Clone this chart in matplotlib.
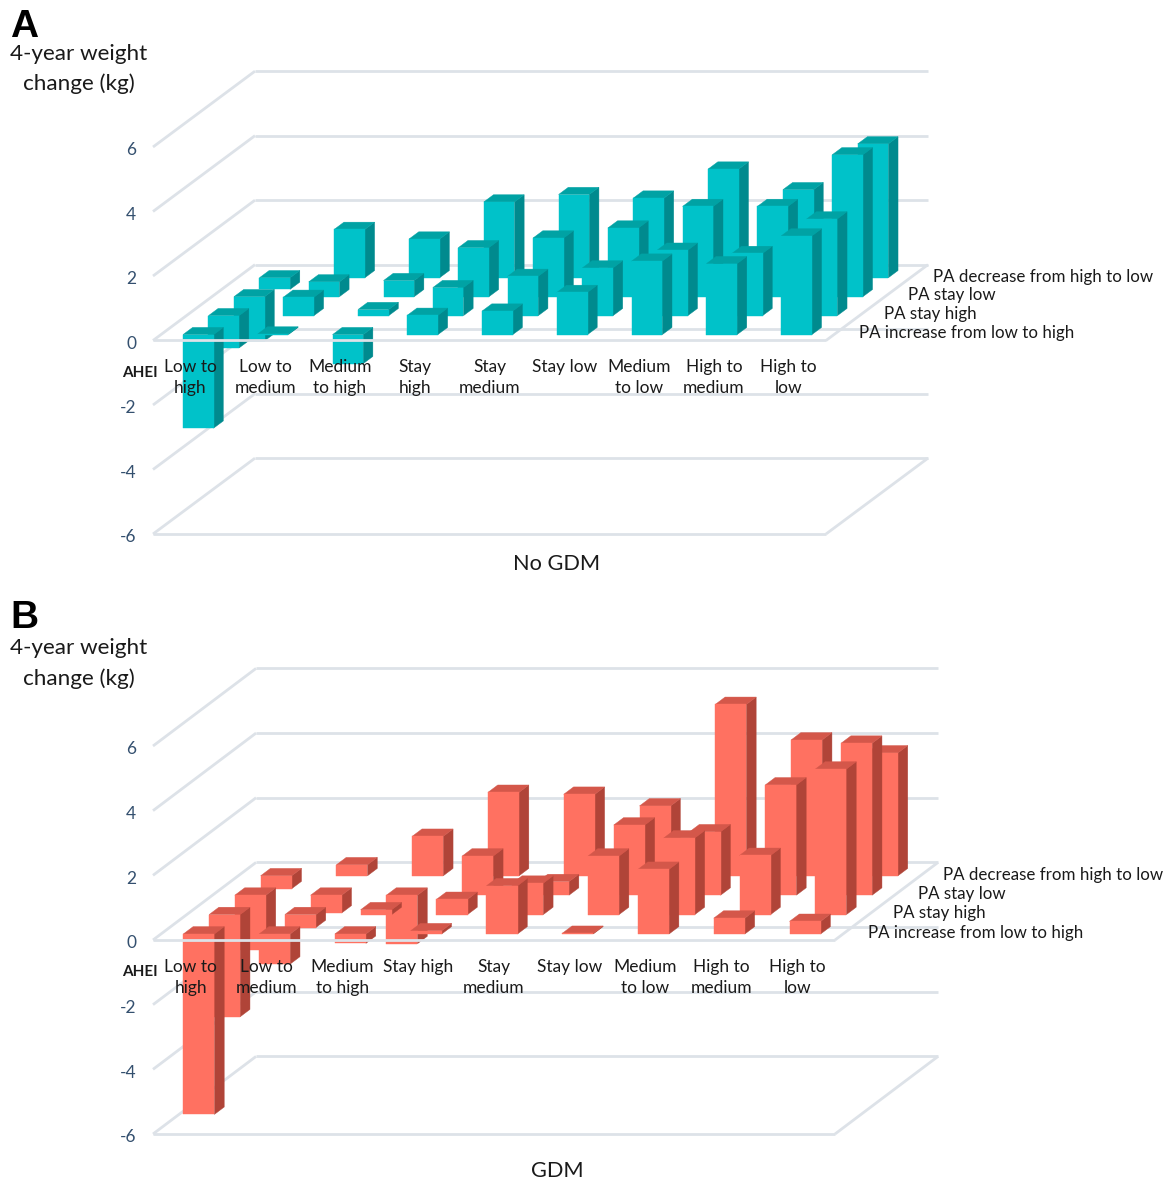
"""
plot.py
3D-style bars of 4-year weight change by AHEI and PA change, No GDM and GDM.
"""

import matplotlib
matplotlib.use("Agg")
import matplotlib.pyplot as plt
from matplotlib.patches import Polygon
from matplotlib.transforms import ScaledTranslation

plt.rcParams["font.family"] = ["Lato", "DejaVu Sans"]
plt.rcParams["axes.unicode_minus"] = False

W, H = 1165, 1181

PA_LABELS = ["PA increase from low to high", "PA stay high", "PA stay low", "PA decrease from high to low"]
Y_TICKS = [-6, -4, -2, 0, 2, 4, 6]

# one list per PA row, front to back, nine AHEI groups each
NO_GDM_LABELS = ["Low to\nhigh", "Low to\nmedium", "Medium\nto high", "Stay\nhigh", "Stay\nmedium",
                 "Stay low\n", "Medium\nto low", "High to\nmedium", "High to\nlow"]
NO_GDM_INCREASE = [-2.9, 0.02, -0.9, 0.6, 0.73, 1.31, 2.28, 2.2, 3.06]
NO_GDM_STAY_HIGH = [-1.0, 0.57, 0.19, 0.87, 1.22, 1.48, 2.03, 1.93, 3.0]
NO_GDM_STAY_LOW = [-1.37, 0.46, 0.5, 1.52, 1.82, 2.13, 2.8, 2.8, 4.4]
NO_GDM_DECREASE = [-0.36, 1.5, 1.2, 2.35, 2.58, 2.47, 3.37, 2.73, 4.15]

GDM_LABELS = ["Low to\nhigh", "Low to\nmedium", "Medium\nto high", "Stay high\n", "Stay\nmedium",
              "Stay low\n", "Medium\nto low", "High to\nmedium", "High to\nlow"]
GDM_INCREASE = [-5.58, -0.93, -0.29, 0.1, 1.49, 0.02, 2.0, 0.49, 0.39]
GDM_STAY_HIGH = [-3.16, -0.4, 0.15, 0.47, 0.97, 1.81, 2.37, 1.83, 4.5]
GDM_STAY_LOW = [-1.7, -0.55, -1.5, 1.21, 0.42, 2.17, 1.96, 3.41, 4.7]
GDM_DECREASE = [-0.4, 0.34, 1.22, 2.58, 2.52, 2.16, 5.3, 4.2, 3.8]

BAR_START = 0.295
BAR_WIDTH = 0.41
BAR_FRONT = 0.31
BAR_DEPTH = 0.38
GRID = "#DDE2E8"
TICK_COLOR = "#34506F"
TEXT = "#1A1A1A"


def draw_panel(rect, rows, labels, colors, depth_x, depth_z):
    """rect is left, top, right, bottom in picture pixels."""
    left, top, right, bottom = rect
    ax = fig.add_axes([left / W, 1 - bottom / H, (right - left) / W, (bottom - top) / H])
    ax.set_xlim(0, 9)
    ax.set_ylim(-6, 6)
    ax.patch.set_visible(False)
    for s in ax.spines.values():
        s.set_visible(False)
    ax.set_xticks([])
    ax.set_yticks(Y_TICKS)
    ax.tick_params(axis="y", length=0, pad=12, labelsize=12.5, labelcolor=TICK_COLOR)
    nudge = ScaledTranslation(0, -2 / 100, fig.dpi_scale_trans)
    for t in ax.get_yticklabels():
        t.set_transform(t.get_transform() + nudge)

    def pt(c, r, z):
        return (c + r * depth_x, z + r * depth_z)

    def wall(p, q, zorder=1):
        ax.plot([p[0], q[0]], [p[1], q[1]], color=GRID, lw=2, zorder=zorder,
                clip_on=False, solid_capstyle="butt")

    for z in Y_TICKS:
        wall(pt(0, 4, z), pt(9, 4, z))
        wall(pt(0, 0, z), pt(0, 4, z))
    for z in [0, -6]:
        wall(pt(0, 0, z), pt(9, 0, z), zorder=5 if z == 0 else 1)
        wall(pt(9, 0, z), pt(9, 4, z))

    face, side, roof = colors
    for r in range(3, -1, -1):
        for c, v in enumerate(rows[r]):
            x0, x1 = c + BAR_START, c + BAR_START + BAR_WIDTH
            r0, r1 = r + BAR_FRONT, r + BAR_FRONT + BAR_DEPTH
            lo, hi = min(v, 0), max(v, 0)
            polys = [
                ([pt(x1, r0, lo), pt(x1, r1, lo), pt(x1, r1, hi), pt(x1, r0, hi)], side),
                ([pt(x0, r0, hi), pt(x1, r0, hi), pt(x1, r1, hi), pt(x0, r1, hi)], roof),
                ([pt(x0, r0, lo), pt(x1, r0, lo), pt(x1, r0, hi), pt(x0, r0, hi)], face),
            ]
            for xy, col in polys:
                ax.add_patch(Polygon(xy, closed=True, facecolor=col, edgecolor=col, lw=0.3,
                                     zorder=2, clip_on=False))

    for c, lab in enumerate(labels):
        ax.text(c + 0.5, -1.15, lab, ha="center", va="center", fontsize=12.5, color=TEXT,
                linespacing=1.38, zorder=6)
    ax.text(0.06, -1.0, "AHEI", ha="right", va="center", fontsize=11, fontweight="bold",
            color=TEXT, zorder=6)
    for r, lab in enumerate(PA_LABELS):
        ax.text(9.44 + r * 0.33, 0.22 + r * depth_z, lab, ha="left", va="center",
                fontsize=12.2, color=TEXT)
    return ax


fig = plt.figure(figsize=(W / 100, H / 100), dpi=100)

draw_panel((153, 147, 826, 534),
           [NO_GDM_INCREASE, NO_GDM_STAY_HIGH, NO_GDM_STAY_LOW, NO_GDM_DECREASE],
           NO_GDM_LABELS, ("#00C2C9", "#008A8E", "#00A2A4"), 0.341, 0.588)
draw_panel((153, 746, 835, 1134),
           [GDM_INCREASE, GDM_STAY_HIGH, GDM_STAY_LOW, GDM_DECREASE],
           GDM_LABELS, ("#FF7161", "#B04438", "#D4574A"), 0.34, 0.60)

for letter, y_letter, y1, y2 in [("A", 27, 54, 84), ("B", 618, 648, 679)]:
    fig.text(10 / W, 1 - y_letter / H, letter, ha="left", va="center", fontsize=28,
             fontweight="bold", family="Liberation Sans", color="black")
    fig.text(79 / W, 1 - y1 / H, "4-year weight", ha="center", va="center", fontsize=16.2, color=TEXT)
    fig.text(79 / W, 1 - y2 / H, "change (kg)", ha="center", va="center", fontsize=16.2, color=TEXT)

fig.text(557 / W, 1 - 564 / H, "No GDM", ha="center", va="center", fontsize=15.7, color=TEXT)
fig.text(557 / W, 1 - 1171 / H, "GDM", ha="center", va="center", fontsize=15.7, color=TEXT)

fig.savefig("out.png", dpi=100)
